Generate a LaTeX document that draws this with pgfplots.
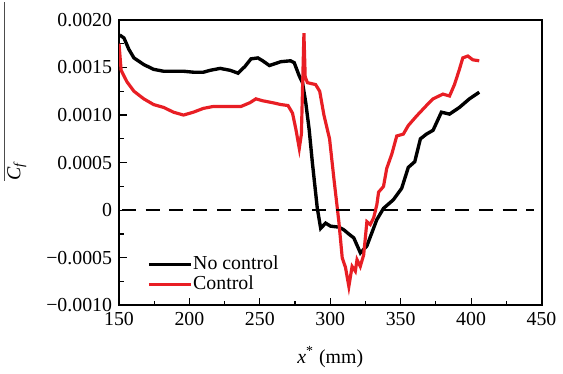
\documentclass[border=0pt]{standalone}
\usepackage{pgfplots}
\pgfplotsset{compat=1.18}
\usepackage{fontspec}
\setmainfont{Liberation Serif}
\definecolor{cred}{RGB}{232,30,36}
\begin{document}
\begin{tikzpicture}
\begin{axis}[name=ax, scale only axis, width=213pt, height=144pt,
  xmin=150, xmax=450, ymin=-0.001, ymax=0.002,
  xtick={150,200,...,450},
  ytick={-0.001,-0.0005,0,0.0005,0.001,0.0015,0.002},
  yticklabels={−0.0010,−0.0005,0,0.0005,0.0010,0.0015,0.0020},
  scaled y ticks=false,
  minor tick num=1, tick pos=left, tick align=inside,
  major tick length=4pt, minor tick length=2.5pt,
  axis line style={line width=1pt},
  every tick/.style={line width=0.6pt, black},
  /pgf/number format/assume math mode=true,
  tick label style={font=\fontsize{10}{12}\selectfont},
  xlabel={\textit{x}\textsuperscript{*} (mm)},
  xlabel style={at={(axis description cs:0.5,0)}, anchor=center, yshift=-26pt, font=\fontsize{10}{12}\selectfont},
  ylabel={\rlap{\smash{\color{black!70}\rule[0.75em]{90pt}{0.5pt}}}\textit{C}\textsubscript{\textit{f}}},
  ylabel style={at={(axis description cs:-0.242,0.472)}, anchor=center, font=\fontsize{10}{12}\selectfont},
  legend style={at={(axis description cs:0.0657,0.18)}, anchor=north west, draw=none, fill=none,
    inner sep=0pt, row sep=0pt, font=\fontsize{10}{12}\selectfont,
    nodes={inner sep=0.5pt, text height=7pt, text depth=2pt, anchor=west}},
  legend cell align=left,
  legend image code/.code={\draw[#1] (0pt,0pt) -- (21pt,0pt);},
]
\addplot[black, line width=1.7pt] coordinates {
(150.5,0.00184) (153.5,0.00181) (157,0.00169) (160.6,0.00160) (167.6,0.00153)
(174.6,0.00148) (181.7,0.00146) (188.7,0.00146) (195.8,0.00146) (202.8,0.00145)
(209.9,0.00145) (214.8,0.00147) (221.8,0.00149) (228.9,0.00147) (234.5,0.00144)
(239.4,0.00151) (243.7,0.00159) (248.6,0.00160) (252,0.00157) (256.8,0.00152)
(264.8,0.00156) (271.8,0.00157) (274.4,0.00155) (278,0.00141) (280.3,0.00134)
(282.6,0.00113) (285,0.00085) (287.3,0.00050) (290.8,0.00002) (293.2,-0.00019)
(296.7,-0.000135) (300.2,-0.000167) (306,-0.000177) (309.6,-0.000205) (313.2,-0.00025)
(316.7,-0.00029) (321.4,-0.000448) (326,-0.000375) (333,-0.000100) (337.8,0.00002)
(344.8,0.00011) (350.7,0.00023) (355.4,0.00045) (360,0.00051) (364,0.00075)
(368.3,0.00080) (373,0.00084) (378.9,0.00103) (384.7,0.00101) (391.7,0.00108)
(398.8,0.00117) (405.8,0.00124)
};
\addlegendentry{No control}
\addplot[cred, line width=1.6pt] coordinates {
(150,0.00175) (150.8,0.00160) (151.5,0.00147) (155.6,0.00135) (160.6,0.00125)
(167.6,0.00117) (174.6,0.00111) (181.7,0.00108) (188.7,0.00103) (195.8,0.00100)
(202.8,0.00103) (209.9,0.00107) (216.9,0.00109) (224,0.00109) (231,0.00109)
(236.6,0.00109) (243,0.00113) (247.2,0.00117) (252,0.00115) (259,0.00113)
(265,0.00111) (270,0.00110) (273.2,0.00102) (275.6,0.00085) (278,0.00065)
(279.5,0.00080) (281.3,0.00186) (282.2,0.00140) (283.8,0.00134) (289.6,0.00132)
(292.5,0.00125) (295.5,0.00100) (297.9,0.00085) (299.5,0.00075) (302.6,0.00033)
(306.1,-0.00012) (308.5,-0.00050) (310.8,-0.00060) (313.2,-0.00080) (315.5,-0.00059)
(317.8,-0.00064) (319,-0.00052) (321.3,-0.00059) (323.7,-0.00047) (324.9,-0.00029)
(326,-0.00012) (328.4,-0.00015) (330.8,-0.00008) (333.1,0.00006) (334.3,0.00019)
(337.8,0.00025) (340.1,0.00044) (343.7,0.00059) (347.2,0.00078) (351.9,0.00080)
(355.4,0.00089) (361.3,0.00099) (368.3,0.00110) (373,0.00117) (380,0.00122)
(384.7,0.00120) (388.2,0.00132) (391.7,0.00148) (394.1,0.00160) (397.7,0.00162)
(401.2,0.00158) (405.8,0.00157)
};
\addlegendentry{Control}
\addplot[black, line width=1pt, dash pattern=on 7pt off 5pt, forget plot] coordinates {(152,0) (445,0)};
\end{axis}
\path ([shift={(-60pt,-32pt)}]ax.south west) rectangle ([shift={(8.5pt,10pt)}]ax.north east);
\end{tikzpicture}
\end{document}
